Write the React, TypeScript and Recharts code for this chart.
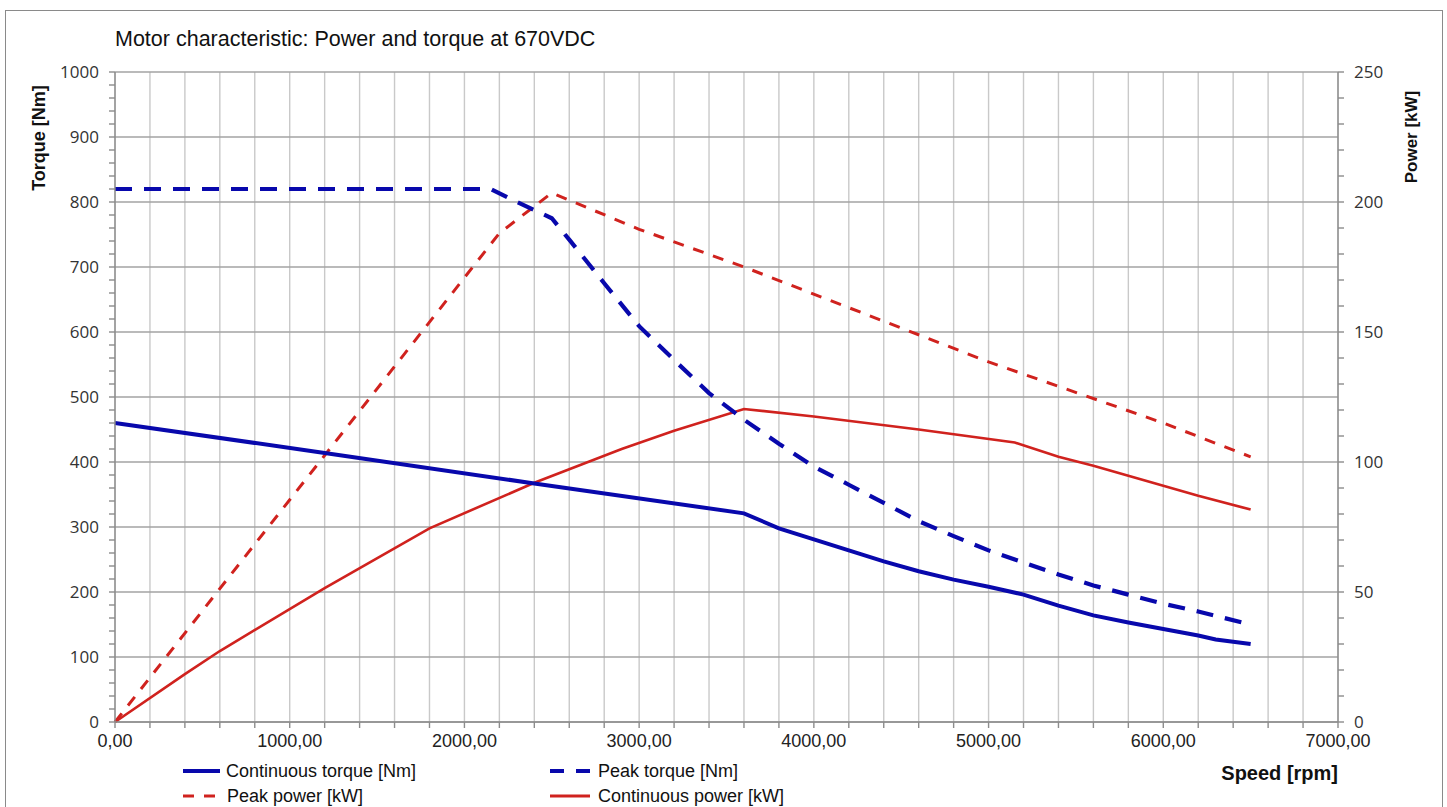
import React from 'react';
import { LineChart, Line, XAxis, YAxis, CartesianGrid } from 'recharts';

// ---- Data ----
const contTorqueRpm = [0, 1200, 2400, 3600, 3800, 4000, 4200, 4400, 4600, 4800, 5000, 5200, 5400, 5600, 5800, 6000, 6200, 6300, 6500];
const contTorqueNm = [460, 414, 367, 321, 298, 281, 264, 247, 232, 219, 208, 196, 179, 164, 153, 143, 133, 127, 120];

const peakTorqueRpm = [0, 2150, 2300, 2500, 2600, 2800, 3000, 3200, 3400, 3600, 3800, 4000, 4200, 4400, 4600, 4800, 5000, 5150, 5400, 5600, 5800, 6000, 6200, 6500];
const peakTorqueNm = [820, 820, 800, 775, 742, 675, 609, 557, 506, 465, 428, 393, 365, 337, 309, 286, 264, 250, 227, 210, 196, 182, 170, 150];

const peakPowerRpm = [0, 2200, 2500, 3000, 3600, 5000, 6000, 6500];
const peakPowerKw = [0, 188, 203.5, 189.5, 175, 138.5, 115, 102];

const contPowerRpm = [0, 400, 600, 1200, 1800, 2400, 2900, 3200, 3600, 4000, 4600, 5150, 5400, 5600, 5800, 6000, 6200, 6500];
const contPowerKw = [0, 18.4, 27.3, 51.5, 74.5, 92, 105, 112, 120.4, 117.5, 112.5, 107.5, 102, 98.6, 94.7, 90.9, 87, 81.7];

const xTickStep = 200;
const xMax = 7000;
const torqueMax = 1000;
const powerMax = 250;

const rpmTicks = Array.from({ length: xMax / xTickStep + 1 }, (_, i) => i * xTickStep);
const torqueTicks = Array.from({ length: torqueMax / 20 + 1 }, (_, i) => i * 20);
const torqueGridValues = Array.from({ length: torqueMax / 100 + 1 }, (_, i) => i * 100);
const powerTicks = Array.from({ length: powerMax / 10 + 1 }, (_, i) => i * 10);

const zip = (xs: number[], ys: number[]) => xs.map((x, i) => ({ rpm: x, v: ys[i] }));
const contTorqueData = zip(contTorqueRpm, contTorqueNm);
const peakTorqueData = zip(peakTorqueRpm, peakTorqueNm);
const peakPowerData = zip(peakPowerRpm, peakPowerKw);
const contPowerData = zip(contPowerRpm, contPowerKw);

const BLUE = '#0808AC';
const RED = '#D0221E';
const AXIS = '#8c8c8c';

const fmtRpm = (v: number) => (v % 1000 === 0 ? `${v},00` : '');
const fmtTorque = (v: number) => (v % 100 === 0 ? String(v) : '');
const fmtPower = (v: number) => (v % 50 === 0 ? String(v) : '');

export default function App() {
  return (
    <div style={{ position: 'absolute', left: 0, top: 0, width: 1447, height: 807, background: '#fff', overflow: 'hidden' }}>
      <div style={{ position: 'absolute', left: 5, top: 10, width: 1436, height: 820, border: '1px solid #8a8a8a' }} />
      <div style={{ position: 'absolute', left: 0, top: 0 }}>
        <LineChart width={1447} height={807} margin={{ top: 72, right: 0, bottom: 0, left: 0 }}>
          <CartesianGrid xAxisId="rpm" yAxisId="torque" horizontal={false} vertical stroke="#c9c9c9" strokeWidth={1.4} />
          <CartesianGrid xAxisId="rpm" yAxisId="torque" vertical={false} horizontal horizontalValues={torqueGridValues} stroke="#a3a3a3" strokeWidth={1.4} />
          <XAxis
            xAxisId="rpm"
            dataKey="rpm"
            type="number"
            domain={[0, xMax]}
            ticks={rpmTicks}
            interval={0}
            tickFormatter={fmtRpm}
            height={85}
            tickSize={6}
            tickMargin={6}
            stroke={AXIS}
            strokeWidth={1.4}
            allowDuplicatedCategory={false}
            tick={{ fill: '#222', fontSize: 18, fontFamily: 'Liberation Sans, Arial, sans-serif' }}
          />
          <YAxis
            yAxisId="torque"
            type="number"
            domain={[0, torqueMax]}
            ticks={torqueTicks}
            interval={0}
            tickFormatter={fmtTorque}
            width={115}
            tickSize={6}
            tickMargin={10}
            stroke={AXIS}
            strokeWidth={1.4}
            tick={{ fill: '#333', fontSize: 17, fontFamily: 'Open Sans, sans-serif' }}
          />
          <YAxis
            yAxisId="power"
            orientation="right"
            type="number"
            domain={[0, powerMax]}
            ticks={powerTicks}
            interval={0}
            tickFormatter={fmtPower}
            width={109}
            tickSize={6}
            tickMargin={10}
            stroke={AXIS}
            strokeWidth={1.4}
            tick={{ fill: '#333', fontSize: 17, fontFamily: 'Open Sans, sans-serif' }}
          />
          <Line xAxisId="rpm" yAxisId="power" data={peakPowerData} dataKey="v" type="linear" stroke={RED} strokeWidth={3} strokeDasharray="11 10" dot={false} isAnimationActive={false} />
          <Line xAxisId="rpm" yAxisId="power" data={contPowerData} dataKey="v" type="linear" stroke={RED} strokeWidth={2.6} dot={false} isAnimationActive={false} />
          <Line xAxisId="rpm" yAxisId="torque" data={peakTorqueData} dataKey="v" type="linear" stroke={BLUE} strokeWidth={4.2} strokeDasharray="17 12" dot={false} isAnimationActive={false} />
          <Line xAxisId="rpm" yAxisId="torque" data={contTorqueData} dataKey="v" type="linear" stroke={BLUE} strokeWidth={4} dot={false} isAnimationActive={false} />
        </LineChart>
      </div>
      <svg width={1447} height={807} style={{ position: 'absolute', left: 0, top: 0, pointerEvents: 'none' }}>
        <text x={115} y={46} fontSize={21.5} fontFamily="Liberation Sans, Arial, sans-serif" fill="#111">
          Motor characteristic: Power and torque at 670VDC
        </text>
        <text transform="translate(45,138) rotate(-90)" textAnchor="middle" fontSize={18} fontWeight="bold" fontFamily="Liberation Sans, Arial, sans-serif" fill="#111">
          Torque [Nm]
        </text>
        <text transform="translate(1417,137) rotate(-90)" textAnchor="middle" fontSize={17} fontWeight="bold" fontFamily="Liberation Sans, Arial, sans-serif" fill="#111">
          Power [kW]
        </text>
        <text x={1338} y={780} textAnchor="end" fontSize={20} fontWeight="bold" fontFamily="Liberation Sans, Arial, sans-serif" fill="#111">
          Speed [rpm]
        </text>
        {/* legend */}
        <line x1={183} y1={771} x2={220} y2={771} stroke={BLUE} strokeWidth={4} />
        <text x={226} y={777} fontSize={18} fontFamily="Liberation Sans, Arial, sans-serif" fill="#111">Continuous torque [Nm]</text>
        <line x1={550} y1={771} x2={592} y2={771} stroke={BLUE} strokeWidth={4.2} strokeDasharray="14 12" />
        <text x={598} y={777} fontSize={18} fontFamily="Liberation Sans, Arial, sans-serif" fill="#111">Peak torque [Nm]</text>
        <line x1={183} y1={796} x2={222} y2={796} stroke={RED} strokeWidth={3} strokeDasharray="11 10" />
        <text x={227} y={802} fontSize={18} fontFamily="Liberation Sans, Arial, sans-serif" fill="#111">Peak power [kW]</text>
        <line x1={550} y1={796} x2={590} y2={796} stroke={RED} strokeWidth={3} />
        <text x={598} y={802} fontSize={18} fontFamily="Liberation Sans, Arial, sans-serif" fill="#111">Continuous power [kW]</text>
      </svg>
    </div>
  );
}
